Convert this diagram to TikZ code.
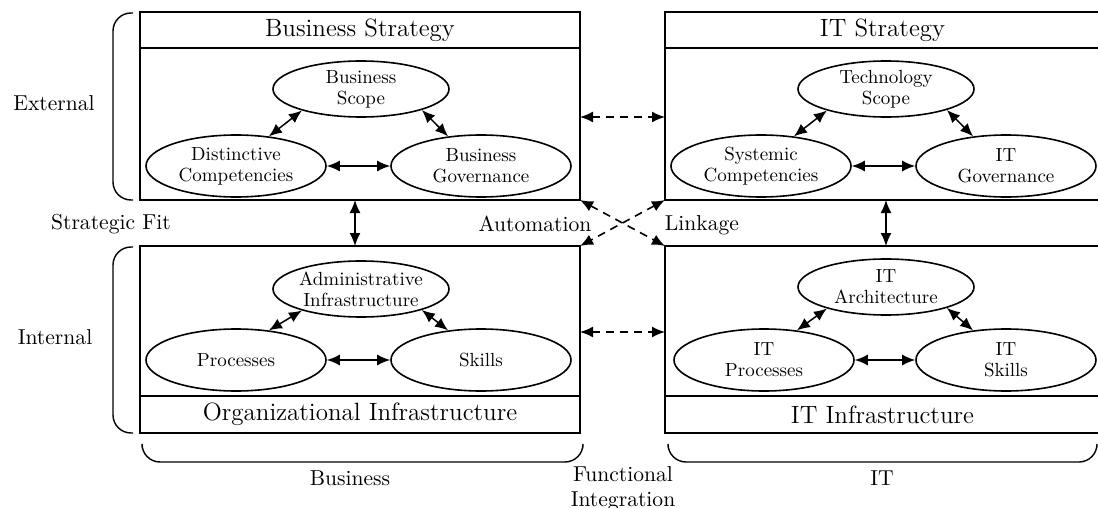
\documentclass[tikz,border=0pt]{standalone}
\usepackage{tikz}
\usetikzlibrary{arrows.meta, positioning, calc, shapes.geometric}

\begin{document}
\begin{tikzpicture}[x=0.5pt,y=-0.5pt,>={Latex[length=6.5pt,width=5.5pt]},
  hdrbox/.style={draw, line width=1pt, rectangle, minimum width=220pt, minimum height=18pt, inner sep=0pt, outer sep=0pt, font=\fontsize{12.5}{15}\selectfont},
  bodybox/.style={draw, line width=1pt, rectangle, minimum width=220pt, minimum height=76pt, inner sep=0pt, outer sep=0pt},
  topell/.style={draw, ellipse, line width=0.8pt, minimum width=88pt, minimum height=28pt, inner sep=0pt, align=center, font=\fontsize{9.5}{10.5}\selectfont},
  sideell/.style={topell, minimum width=90pt, minimum height=31pt},
  arr/.style={<->, line width=0.75pt},
  darr/.style={<->, line width=0.8pt, dash pattern=on 4pt off 3pt},
  brk/.style={line width=0.7pt, rounded corners=9pt},
  lbl/.style={font=\fontsize{10.8}{12.5}\selectfont, align=center}
]
\useasboundingbox (0,0) rectangle (1098,508);

% --- Boxes
\node[hdrbox] (bshdr) at (360,30) {Business Strategy};
\node[bodybox, below=0pt of bshdr] (bsbody) {};
\node[hdrbox, minimum width=217.5pt] (tshdr) at (882.5,30) {IT Strategy};
\node[bodybox, minimum width=217.5pt, below=0pt of tshdr] (tsbody) {};
\node[bodybox, minimum height=75pt] (oibody) at (360,321) {};
\node[hdrbox, minimum height=18.5pt, below=0pt of oibody] (oihdr) {Organizational Infrastructure};
\node[bodybox, minimum width=217.5pt, minimum height=75pt] (itibody) at (882.5,321) {};
\node[hdrbox, minimum width=217.5pt, minimum height=18.5pt, below=0pt of itibody] (itihdr) {IT Infrastructure};

% --- Ellissi
\node[topell] (bs) at (361,89) {Business\\Scope};
\node[sideell] (dc) at (236,166) {Distinctive\\Competencies};
\node[sideell] (bg) at (481,166) {Business\\Governance};
\node[topell] (ts) at (886,89) {Technology\\Scope};
\node[sideell] (sc) at (761,166) {Systemic\\Competencies};
\node[sideell] (itg) at (1006,166) {IT\\Governance};
\node[topell] (ai) at (361,289) {Administrative\\Infrastructure};
\node[sideell] (pr) at (236,360) {Processes};
\node[sideell] (sk) at (481,360) {Skills};
\node[topell] (ita) at (886,287) {IT\\Architecture};
\node[sideell] (itp) at (764,360) {IT\\Processes};
\node[sideell] (its) at (1006,360) {IT\\Skills};

% --- Frecce interne
\foreach \t/\l/\r in {bs/dc/bg, ts/sc/itg, ai/pr/sk, ita/itp/its} {
  \draw[arr] (\l.42) -- (\t.200);
  \draw[arr] (\t.-19) -- (\r.138);
  \draw[arr] (\l) -- (\r);
}

% --- Strategic fit
\draw[arr] ($(bs |- bsbody.south)+(-6,0)$) -- ($(ai |- oibody.north)+(-6,0)$);
\draw[arr] (ts |- tsbody.south) -- (ita |- itibody.north);

% --- Functional integration
\draw[darr] ($(bsbody.east)+(0,-7)$) -- ($(tsbody.west)+(0,-7)$);
\draw[darr] ($(oibody.east)+(0,11)$) -- ($(itibody.west)+(0,11)$);
\draw[darr] (bsbody.south east) -- (itibody.north west);
\draw[darr] (tsbody.south west) -- (oibody.north east);

% --- Parentesi
\draw[brk] (133,13) -- (113,13) -- (113,200) -- (133,200);
\draw[brk] (133,247) -- (113,247) -- (113,433) -- (133,433);
\draw[brk] (142,447) -- (142,462) -- (583,462) -- (583,447);
\draw[brk] (668,447) -- (668,462) -- (1097,462) -- (1097,447);

% --- Etichette
\node[lbl] (ext) at (54,103) {External};
\node[lbl] (sfit) at (111,224) {Strategic Fit};
\node[lbl] (int) at (55,337) {Internal};
\node[lbl] (auto) at (535,224) {Automation};
\node[lbl] (link) at (702,225) {Linkage};
\node[lbl] (bus) at (350,478) {Business};
\node[lbl] (it) at (882,478) {IT};
\node[lbl] (fint) at (623,489) {Functional\\Integration};

\end{tikzpicture}
\end{document}
